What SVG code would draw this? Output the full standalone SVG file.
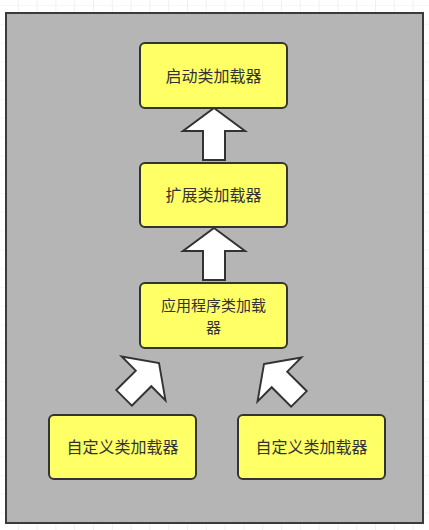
<svg xmlns="http://www.w3.org/2000/svg" width="429" height="530" viewBox="0 0 429 530">
  <style>
    .container { fill: #b5b5b5; stroke: #3a3a3a; stroke-width: 2; }
    .node rect { fill: #ffff66; stroke: #333333; stroke-width: 2; }
    .node text { font-family: "Noto Sans CJK SC", "Liberation Sans", sans-serif; font-size: 16px; fill: #333333; text-anchor: middle; }
    .node text.wrap { font-size: 15px; }
    .arrow { fill: #ffffff; stroke: #333333; stroke-width: 2; stroke-linejoin: miter; }
  </style>
  <defs>
    <pattern id="grid" x="0" y="5" width="18.8" height="18.8" patternUnits="userSpaceOnUse">
      <path d="M18.3 0 V18.8 M0 0 H18.8" fill="none" stroke="#f0f0f0" stroke-width="1"/>
    </pattern>
    <path id="bigArrow" d="M0 0 L31 23 L11 23 L11 52 L-11 52 L-11 23 L-31 23 Z"/>
  </defs>
  <rect x="0" y="0" width="429" height="530" fill="#ffffff"/>
  <rect x="0" y="0" width="429" height="530" fill="url(#grid)"/>
  <rect class="container" x="6" y="13" width="417" height="510"/>

  <g id="connectors">
    <use href="#bigArrow" class="arrow" transform="translate(214,108)"/>
    <use href="#bigArrow" class="arrow" transform="translate(214,228)"/>
    <use href="#bigArrow" class="arrow" transform="translate(159,363) rotate(45) scale(1,0.95)"/>
    <use href="#bigArrow" class="arrow" transform="translate(264,364) rotate(-45) scale(1,0.95)"/>
  </g>

  <g id="bootstrap" class="node">
    <rect x="140" y="43" width="147" height="65" rx="5"/>
    <text x="213.5" y="81.5">启动类加载器</text>
  </g>
  <g id="extension" class="node">
    <rect x="140" y="163" width="147" height="64" rx="5"/>
    <text x="213.5" y="201">扩展类加载器</text>
  </g>
  <g id="application" class="node">
    <rect x="140" y="283" width="147" height="65" rx="5"/>
    <text class="wrap" x="213.5" y="310.5">应用程序类加载</text>
    <text class="wrap" x="213.5" y="332.5">器</text>
  </g>
  <g id="custom1" class="node">
    <rect x="49" y="415" width="147" height="64" rx="5"/>
    <text x="122.5" y="453">自定义类加载器</text>
  </g>
  <g id="custom2" class="node">
    <rect x="238" y="415" width="147" height="64" rx="5"/>
    <text x="311.5" y="453">自定义类加载器</text>
  </g>
</svg>
